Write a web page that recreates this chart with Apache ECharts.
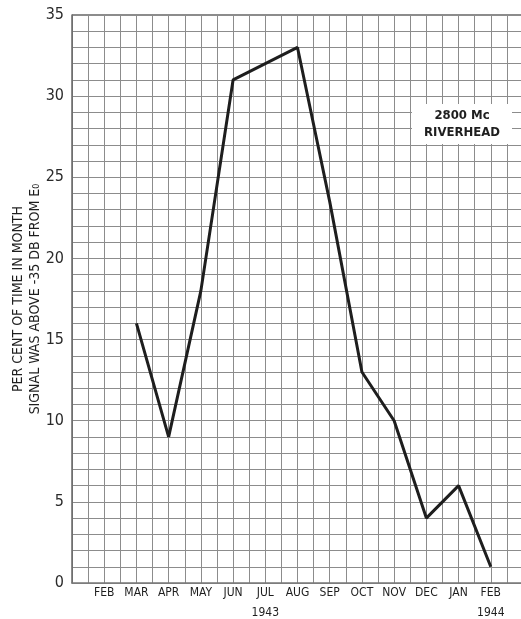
<!DOCTYPE html>
<html>
<head>
    <meta http-equiv="content-type" content="text/html;charset=utf-8">
    <script src="https://cdn.jsdelivr.net/npm/echarts@6/dist/echarts.min.js"></script>
    <style>
        html, body { margin: 0; padding: 0; background: #fff; }
        #main { width: 521px; height: 619px; }
    </style>
</head>
<body>
<div id="main"></div>

<script type="text/javascript">
    // months along the bottom, Feb 1943 .. Feb 1944
    var months = ['FEB', 'MAR', 'APR', 'MAY', 'JUN', 'JUL', 'AUG', 'SEP', 'OCT', 'NOV', 'DEC', 'JAN', 'FEB'];
    var years = ['', '', '', '', '', '1943', '', '', '', '', '', '', '1944'];
    // per cent of time signal above -35 db (no reading for first Feb)
    var percent = [null, 16, 9, 18, 31, 32, 33, 23.5, 13, 10, 4, 6, 1];
    var yTicks = [0, 5, 10, 15, 20, 25, 30, 35];

    var font = '"DejaVu Sans Condensed", "Liberation Sans Narrow", sans-serif';
    var ink = '#1e1e1e';

    var points = [];
    for (var i = 0; i < percent.length; i++) {
        if (percent[i] !== null) points.push([i, percent[i]]);
    }

    var myChart = echarts.init(document.getElementById('main'));
    var option = {
        backgroundColor: '#fff',
        animation: false,
        grid: {
            left: 72,
            top: 15,
            right: -2,
            bottom: 36,
            containLabel: false,
            outerBoundsMode: 'none'
        },
        xAxis: {
            type: 'value',
            min: -1,
            max: 13,
            interval: 0.5,
            axisLine: { show: true, onZero: false, lineStyle: { color: '#777', width: 1.5 } },
            axisTick: { show: false },
            splitLine: { show: true, lineStyle: { color: '#8c8c8c', width: 1 } },
            axisLabel: {
                margin: 2,
                showMinLabel: true,
                showMaxLabel: true,
                formatter: function (v) {
                    if (v !== Math.round(v) || v < 0 || v >= months.length) return '';
                    var s = '{m|' + months[v] + '}';
                    if (years[v]) s += '\n{y|' + years[v] + '}';
                    return s;
                },
                rich: {
                    m: { fontFamily: font, fontSize: 12, color: ink, lineHeight: 16 },
                    y: { fontFamily: font, fontSize: 12, color: ink, lineHeight: 18, padding: [5, 0, 0, 0] }
                }
            }
        },
        yAxis: {
            type: 'value',
            min: 0,
            max: 35,
            interval: 1,
            name: 'PER CENT OF TIME IN MONTH\nSIGNAL WAS ABOVE -35 DB FROM E\u2080',
            nameLocation: 'middle',
            nameGap: 28,
            nameMoveOverlap: false,
            nameTextStyle: {
                fontFamily: font,
                fontSize: 14,
                color: ink,
                lineHeight: 17
            },
            axisLine: { show: true, onZero: false, lineStyle: { color: '#666', width: 1.5 } },
            axisTick: { show: false },
            splitLine: { show: true, lineStyle: { color: '#8c8c8c', width: 1 } },
            axisLabel: {
                margin: 8,
                fontFamily: font,
                fontSize: 16,
                color: '#2a2a2a',
                formatter: function (v) {
                    return yTicks.indexOf(v) >= 0 ? String(v) : '';
                }
            }
        },
        graphic: [
            {
                type: 'line',
                shape: { x1: 72, y1: 15, x2: 521, y2: 15 },
                style: { stroke: '#666', lineWidth: 1.5 }
            },
            {
                type: 'rect',
                shape: { x: 412, y: 104, width: 100, height: 40 },
                style: { fill: '#fff' },
                z: 100
            },
            {
                type: 'text',
                x: 462,
                y: 107,
                z: 101,
                style: {
                    text: '2800 Mc\nRIVERHEAD',
                    font: 'bold 13px ' + font,
                    lineHeight: 17,
                    textAlign: 'center',
                    align: 'center',
                    fill: ink
                }
            }
        ],
        series: [
            {
                type: 'line',
                data: points,
                symbol: 'none',
                lineStyle: { color: ink, width: 3 }
            }
        ]
    };
    myChart.setOption(option);
</script>

</body>
</html>
